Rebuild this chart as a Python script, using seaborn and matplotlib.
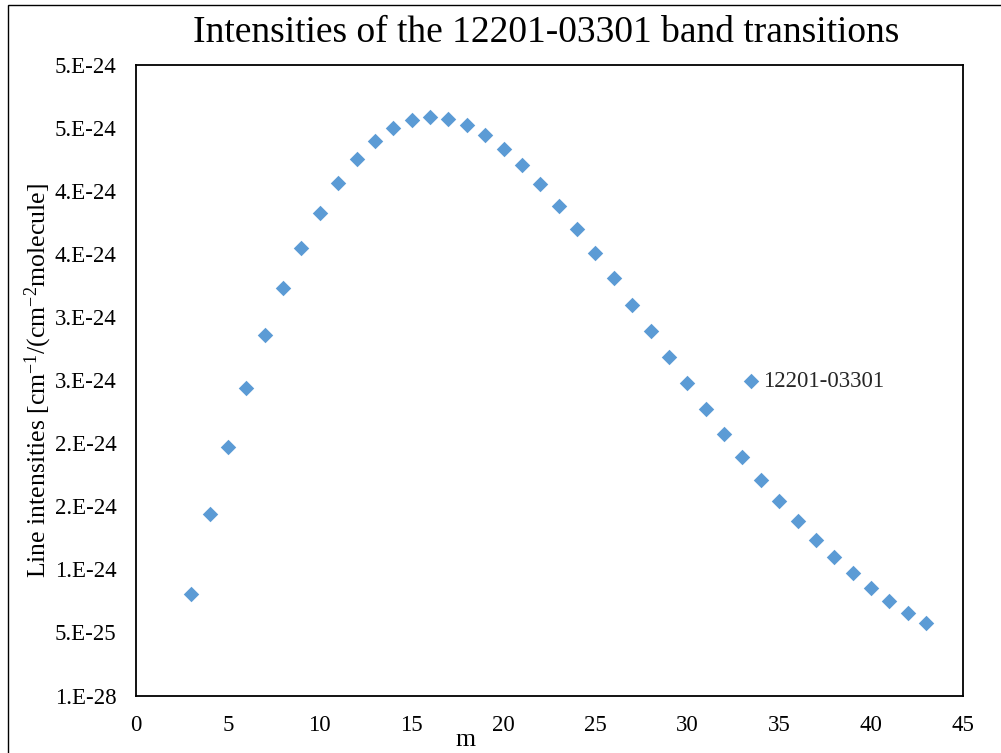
import matplotlib
matplotlib.use("Agg")
import matplotlib.pyplot as plt
from matplotlib.patches import Rectangle
import seaborn as sns
import pandas as pd

# ---- data ----
m_values = [3, 4, 5, 6, 7, 8, 9, 10, 11, 12, 13, 14, 15, 16, 17, 18, 19, 20,
            21, 22, 23, 24, 25, 26, 27, 28, 29, 30, 31, 32, 33, 34, 35, 36,
            37, 38, 39, 40, 41, 42, 43]
intensities = [8.08e-25, 1.442e-24, 1.973e-24, 2.441e-24, 2.861e-24, 3.233e-24,
               3.552e-24, 3.830e-24, 4.065e-24, 4.253e-24, 4.398e-24, 4.503e-24,
               4.562e-24, 4.586e-24, 4.570e-24, 4.522e-24, 4.445e-24, 4.337e-24,
               4.208e-24, 4.055e-24, 3.883e-24, 3.700e-24, 3.510e-24, 3.312e-24,
               3.098e-24, 2.887e-24, 2.681e-24, 2.475e-24, 2.272e-24, 2.076e-24,
               1.888e-24, 1.712e-24, 1.545e-24, 1.384e-24, 1.236e-24, 1.099e-24,
               0.972e-24, 0.856e-24, 0.750e-24, 0.655e-24, 0.571e-24]
series_name = "12201-03301"
x_ticks = [0, 5, 10, 15, 20, 25, 30, 35, 40, 45]
y_ticks = [0, 0.5e-24, 1.0e-24, 1.5e-24, 2.0e-24, 2.5e-24, 3.0e-24,
           3.5e-24, 4.0e-24, 4.5e-24, 5.0e-24]
y_tick_labels = ["1.E-28", "5.E-25", "1.E-24", "2.E-24", "2.E-24", "3.E-24",
                 "3.E-24", "4.E-24", "4.E-24", "5.E-24", "5.E-24"]
title = "Intensities of the 12201-03301 band transitions"
x_label = "m"
y_label = "Line intensities [cm$^{-1}$/(cm$^{-2}$molecule]"

df = pd.DataFrame({"m": m_values, "I": intensities})

sns.set_style("white")
plt.rcParams["font.family"] = ["Liberation Serif", "DejaVu Serif"]
plt.rcParams["mathtext.fontset"] = "custom"
plt.rcParams["mathtext.rm"] = "Liberation Serif"
plt.rcParams["mathtext.it"] = "Liberation Serif:italic"

W, H = 1001, 753
fig = plt.figure(figsize=(W / 100, H / 100), dpi=100)
fig.patch.set_facecolor("white")
L, R, T, B = 136, 963, 65, 695.5
ax = fig.add_axes([L / W, 1 - B / H, (R - L) / W, (B - T) / H])

sns.scatterplot(data=df, x="m", y="I", marker="D", color="#5B9BD5", s=62,
                linewidth=0, label=series_name, ax=ax, zorder=3)

ax.set_xlim(0, 45)
ax.set_ylim(0, 5e-24)
ax.set_xticks(x_ticks)
ax.set_xticklabels([str(t) for t in x_ticks])
ax.set_yticks(y_ticks)
ax.set_yticklabels(y_tick_labels)
ax.tick_params(axis="both", length=0, labelsize=16.5, colors="black")
ax.tick_params(axis="x", pad=14)
ax.tick_params(axis="y", pad=14)
for sp in ax.spines.values():
    sp.set_visible(True)
    sp.set_color("black")
    sp.set_linewidth(1.3)
ax.grid(False)

ax.set_xlabel(x_label, fontsize=18.5, color="black")
ax.xaxis.set_label_coords((465 - L) / (R - L), (B - 740) / (B - T))
ax.xaxis.label.set_va("center")
ax.set_ylabel(y_label, fontsize=18.5, color="black")
ax.yaxis.set_label_coords((38 - L) / (R - L), 0.5)
ax.yaxis.label.set_va("center")

fig.text(546 / W, 1 - 33 / H, title, ha="center", va="center",
         fontsize=27, color="black")

leg = ax.legend(loc="center left",
                bbox_to_anchor=((744 - L) / (R - L), (B - 381) / (B - T)),
                frameon=False, fontsize=16.5, handlelength=0.6,
                handletextpad=0.22, borderpad=0, borderaxespad=0,
                scatterpoints=1)

# outer chart frame
fig.patches.append(Rectangle((8 / W, -0.5), 1.5, 1.5 - 4.5 / H,
                             transform=fig.transFigure, fill=False,
                             edgecolor="black", linewidth=1.0, zorder=0))

fig.savefig("out.png", dpi=100)
